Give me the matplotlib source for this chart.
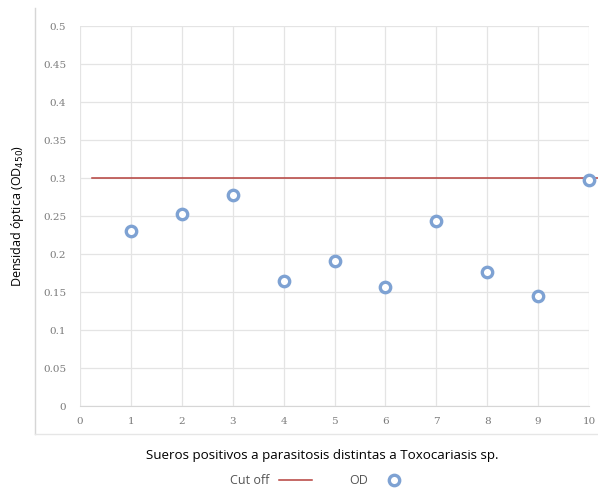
import matplotlib
matplotlib.use("Agg")
import matplotlib.pyplot as plt
from matplotlib.lines import Line2D

# data
sueros = [1, 2, 3, 4, 5, 6, 7, 8, 9, 10]
od = [0.230, 0.252, 0.278, 0.165, 0.191, 0.157, 0.243, 0.176, 0.145, 0.297]
cutoff = 0.3
cutoff_x = [0.24, 10.2]

RED = "#b5403c"
BLUE = "#7ea2d3"
GRID = "#e4e4e4"
TICK = "#7a7a7a"

fig = plt.figure(figsize=(5.98, 4.88), dpi=100)
ax = fig.add_axes([80/598, 82/488, 509/598, 380/488])

ax.plot(cutoff_x, [cutoff, cutoff], color=RED, lw=1.1, clip_on=False, zorder=2,
        label="Cut off")
ax.plot(sueros, od, ls="none", marker="o", ms=7.5, mfc="white", mec=BLUE, mew=2.4,
        clip_on=False, zorder=3, label="OD")

ax.set_xlim(0, 10)
ax.set_ylim(0, 0.5)
ax.set_xticks(range(0, 11))
ax.set_yticks([i * 0.05 for i in range(11)])
ax.set_yticklabels(["0", "0.05", "0.1", "0.15", "0.2", "0.25", "0.3", "0.35",
                    "0.4", "0.45", "0.5"])
ax.grid(True, color=GRID, lw=0.9)
ax.set_axisbelow(True)
for s in ("top", "right", "left"):
    ax.spines[s].set_visible(False)
ax.spines["bottom"].set_color("#d6d6d6")
ax.tick_params(length=0, labelsize=7.5, labelcolor=TICK)
ax.tick_params(axis="x", pad=8)
ax.tick_params(axis="y", pad=10)
for lab in ax.get_xticklabels() + ax.get_yticklabels():
    lab.set_family("DejaVu Serif")

ax.set_xlabel("Sueros positivos a parasitosis distintas a Toxocariasis sp.",
              fontsize=9.6, family="Open Sans")
ax.xaxis.set_label_coords((322 - 80) / 509, -(455 - 406) / 380)
ax.xaxis.label.set_va("center")
ax.set_ylabel("Densidad óptica (OD$_{450}$)", fontsize=9, family="Open Sans",
              labelpad=12)

# outer frame lines (left and bottom)
fig.add_artist(Line2D([35/598, 35/598], [1 - 8/488, 1 - 434/488],
                      color="#d6d6d6", lw=1, transform=fig.transFigure))
fig.add_artist(Line2D([35/598, 1], [1 - 434/488, 1 - 434/488],
                      color="#e6e6e6", lw=1, transform=fig.transFigure))

leg = ax.legend(loc="center", bbox_to_anchor=(320/598, 1 - 481/488),
                bbox_transform=fig.transFigure, ncol=2, frameon=False,
                markerfirst=False, prop={"family": "Open Sans", "size": 9},
                handlelength=2.6, columnspacing=3.0, borderpad=0.1)
for t in leg.get_texts():
    t.set_color("#555555")

fig.savefig("out.png", dpi=100)
